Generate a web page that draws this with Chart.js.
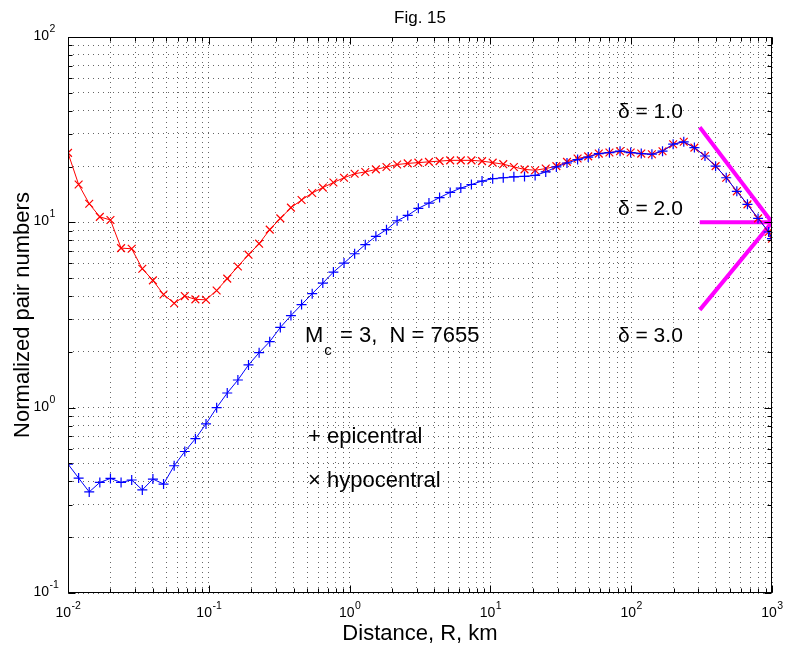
<!DOCTYPE html>
<html>
<head>
<meta charset="utf-8">
<script src="https://cdn.jsdelivr.net/npm/chart.js@4/dist/chart.umd.min.js"></script>
<style>
  html, body { margin: 0; padding: 0; background: #fff; }
</style>
</head>
<body>
<canvas id="fig15" width="786" height="647"></canvas>
<script>
// distance bins, km
const distanceKm = [0.01, 0.0119, 0.01415, 0.01683, 0.02002, 0.02382, 0.02834, 0.03371, 0.0401, 0.04771,
  0.05675, 0.06752, 0.08032, 0.09555, 0.1137, 0.1352, 0.1609, 0.1914, 0.2277, 0.2708,
  0.3221, 0.3832, 0.4559, 0.5424, 0.6452, 0.7674, 0.9129, 1.086, 1.292, 1.537,
  1.828, 2.175, 2.587, 3.078, 3.661, 4.355, 5.181, 6.163, 7.332, 8.722,
  10.38, 12.34, 14.68, 17.47, 20.78, 24.72, 29.41, 34.99, 41.62, 49.51,
  58.88, 70.05, 83.33, 99.13, 117.9, 140.3, 166.9, 198.6, 236.2, 281.0,
  334.2, 397.6, 473.0, 562.6, 669.4, 796.2, 947.1, 1000];

const epicentral = [0.496, 0.417, 0.351, 0.395, 0.415, 0.395, 0.407, 0.36, 0.412, 0.387,
  0.486, 0.58, 0.68, 0.817, 1.0, 1.2, 1.41, 1.7, 1.98, 2.27,
  2.71, 3.14, 3.6, 4.12, 4.7, 5.39, 6.03, 6.77, 7.58, 8.4,
  9.13, 10.2, 10.9, 11.9, 12.7, 13.6, 14.5, 15.3, 16.0, 16.7,
  17.2, 17.4, 17.6, 17.7, 17.9, 18.7, 19.9, 20.9, 21.8, 22.5,
  23.5, 23.8, 24.2, 23.8, 23.5, 23.3, 24.2, 26.4, 27.2, 25.3,
  22.8, 20.1, 17.4, 14.7, 12.5, 10.5, 8.87, 8.16];

const hypocentral = [23.7, 16.0, 12.6, 10.7, 10.3, 7.26, 7.2, 5.62, 4.86, 4.08,
  3.66, 4.0, 3.84, 3.82, 4.29, 4.97, 5.78, 6.69, 7.67, 9.13,
  10.5, 12.0, 13.2, 14.4, 15.4, 16.4, 17.4, 18.3, 18.7, 19.3,
  19.9, 20.5, 20.8, 21.0, 21.2, 21.4, 21.6, 21.6, 21.6, 21.4,
  21.0, 20.6, 19.9, 19.3, 19.1, 19.5, 20.1, 21.2, 22.1, 22.7,
  23.5, 23.8, 24.2, 23.8, 23.5, 23.3, 24.2, 26.4, 27.2, 25.3,
  22.8, 20.1, 17.4, 14.7, 12.5, 10.5, 8.87, 8.16];

// slope guide lines (magenta), from R = 307 to R = 1000 km
const guideR = [307, 1000];
const guideDelta1 = [32.6, 10];
const guideDelta2 = [10, 10];
const guideDelta3 = [3.37, 10];
const deltaLabels = ["\u03b4 = 1.0", "\u03b4 = 2.0", "\u03b4 = 3.0"];

// tick labels: 10^exp
const xDecades = [0.01, 0.1, 1, 10, 100, 1000];
const xExponents = ["-2", "-1", "0", "1", "2", "3"];
const yDecades = [0.1, 1, 10, 100];
const yExponents = ["-1", "0", "1", "2"];

const FONT = "'Liberation Sans', Arial, Helvetica, sans-serif";

const toPoints = (xs, ys) => xs.map((x, i) => ({ x: x, y: ys[i] }));

// decades plus 2..9 minor ticks, as MATLAB does
const logTicks = (decades) => {
  const out = [];
  decades.forEach((d, i) => {
    out.push({ value: d, major: true });
    if (i < decades.length - 1) {
      for (let m = 2; m <= 9; m++) out.push({ value: d * m, major: false });
    }
  });
  return out;
};

//draw 10 with a superscript
const powerLabel = (ctx, exp, x, y, align) => {
  ctx.font = "14px " + FONT;
  const wBase = ctx.measureText("10").width;
  ctx.font = "10.5px " + FONT;
  const wExp = ctx.measureText(exp).width;
  let x0 = x;
  if (align === "center") x0 = x - (wBase + wExp) / 2;
  if (align === "right") x0 = x - wBase;
  ctx.textAlign = "left";
  ctx.font = "14px " + FONT;
  ctx.fillText("10", x0, y);
  ctx.font = "10.5px " + FONT;
  ctx.fillText(exp, x0 + wBase + 0.5, y - 8);
};

const frame = {
  id: "frame",
  afterDraw(chart) {
    const { ctx, chartArea: a } = chart;
    const xs = chart.scales.x;
    const ys = chart.scales.y;
    ctx.save();

    // box and inward ticks
    ctx.strokeStyle = "#000";
    ctx.lineWidth = 1;
    const L = Math.round(a.left) + 0.5, R = Math.round(a.right) - 0.5;
    const T = Math.round(a.top) + 0.5, B = Math.round(a.bottom) - 0.5;
    ctx.strokeRect(L, T, R - L, B - T);
    ctx.beginPath();
    xs.ticks.forEach((t) => {
      const px = Math.round(xs.getPixelForValue(t.value)) + 0.5;
      const len = t.major ? 7 : 4;
      ctx.moveTo(px, B); ctx.lineTo(px, B - len);
      ctx.moveTo(px, T); ctx.lineTo(px, T + len);
    });
    ys.ticks.forEach((t) => {
      const py = Math.round(ys.getPixelForValue(t.value)) + 0.5;
      const len = t.major ? 7 : 4;
      ctx.moveTo(L, py); ctx.lineTo(L + len, py);
      ctx.moveTo(R, py); ctx.lineTo(R - len, py);
    });
    ctx.stroke();

    // tick labels
    ctx.fillStyle = "#000";
    ctx.textBaseline = "alphabetic";
    xDecades.forEach((v, i) => {
      powerLabel(ctx, xExponents[i], xs.getPixelForValue(v), 617, "center");
    });
    yDecades.forEach((v, i) => {
      powerLabel(ctx, yExponents[i], 49, ys.getPixelForValue(v) + 3, "right");
    });

    // title and axis labels
    ctx.textAlign = "center";
    ctx.font = "17px " + FONT;
    ctx.fillText("Fig. 15", 420, 23);
    ctx.font = "22px " + FONT;
    ctx.fillText("Distance, R, km", 420, 640);
    ctx.save();
    ctx.translate(29, 315);
    ctx.rotate(-Math.PI / 2);
    ctx.fillText("Normalized pair numbers", 0, 0);
    ctx.restore();

    // annotations
    ctx.textAlign = "left";
    ctx.font = "22px " + FONT;
    ctx.fillText("M", 305, 342);
    const wM = ctx.measureText("M").width;
    ctx.font = "15px " + FONT;
    ctx.fillText("c", 305 + wM + 1, 355);
    const wc = ctx.measureText("c").width;
    ctx.font = "22px " + FONT;
    ctx.fillText(" = 3,  N = 7655", 305 + wM + wc + 3, 342);
    ctx.fillText("+ epicentral", 308, 443);
    ctx.fillText("\u00d7 hypocentral", 308, 487);
    ctx.font = "21px " + FONT;
    ctx.fillText(deltaLabels[0], 618, 118);
    ctx.fillText(deltaLabels[1], 618, 215);
    ctx.fillText(deltaLabels[2], 618, 342);

    ctx.restore();
  }
};

const gridOpts = { color: "rgba(0,0,0,0.6)", lineWidth: 1, drawTicks: false };
const borderOpts = { display: false, dash: [1, 4] };

new Chart(document.getElementById("fig15"), {
  type: "line",
  data: {
    datasets: [
      {
        label: "epicentral",
        data: toPoints(distanceKm, epicentral),
        borderColor: "#0000ff",
        borderWidth: 1,
        pointStyle: "cross",
        pointRadius: 5,
        pointBorderColor: "#0000ff",
        pointBorderWidth: 1.2,
        tension: 0,
        order: 1
      },
      {
        label: "hypocentral",
        data: toPoints(distanceKm, hypocentral),
        borderColor: "#ff0000",
        borderWidth: 1,
        pointStyle: "crossRot",
        pointRadius: 5.5,
        pointBorderColor: "#ff0000",
        pointBorderWidth: 1.2,
        tension: 0,
        order: 2
      },
      { label: "d1", data: toPoints(guideR, guideDelta1), borderColor: "#ff00ff", borderWidth: 4, pointRadius: 0, order: 3 },
      { label: "d2", data: toPoints(guideR, guideDelta2), borderColor: "#ff00ff", borderWidth: 4, pointRadius: 0, order: 3 },
      { label: "d3", data: toPoints(guideR, guideDelta3), borderColor: "#ff00ff", borderWidth: 4, pointRadius: 0, order: 3 }
    ]
  },
  options: {
    responsive: false,
    animation: false,
    devicePixelRatio: 1,
    events: [],
    layout: { padding: { left: 68, right: 14, top: 37, bottom: 54 } },
    plugins: { legend: { display: false }, tooltip: { enabled: false }, title: { display: false } },
    scales: {
      x: {
        type: "logarithmic",
        min: 0.01,
        max: 1000,
        afterBuildTicks: (scale) => { scale.ticks = logTicks(xDecades); },
        ticks: { display: false },
        grid: gridOpts,
        border: borderOpts
      },
      y: {
        type: "logarithmic",
        min: 0.1,
        max: 100,
        afterBuildTicks: (scale) => { scale.ticks = logTicks(yDecades); },
        ticks: { display: false },
        grid: gridOpts,
        border: borderOpts
      }
    }
  },
  plugins: [frame]
});
</script>
</body>
</html>
